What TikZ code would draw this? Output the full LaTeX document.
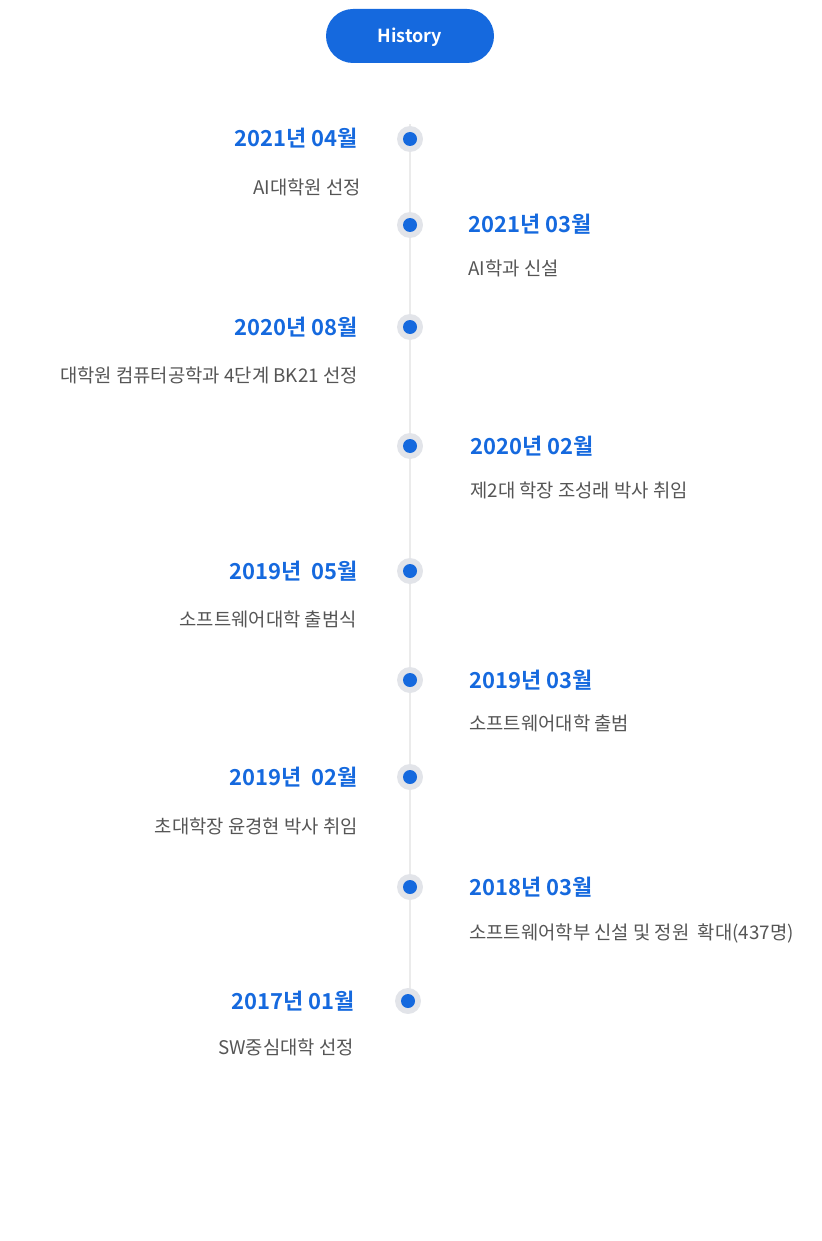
\documentclass[tikz,border=0pt]{standalone}
\usepackage{fontspec}
\setmainfont{Noto Sans CJK KR}[BoldFont={Noto Sans CJK KR Bold}]
\definecolor{hblue}{HTML}{1569DE}
\definecolor{dotgray}{HTML}{E2E4E9}
\definecolor{linegray}{HTML}{EBEBEB}
\definecolor{descgray}{HTML}{555555}
\tikzset{
  yearL/.style={anchor=base east, inner sep=0pt, text=hblue, font=\bfseries\fontsize{16.5}{18}\selectfont},
  yearR/.style={anchor=base west, inner sep=0pt, text=hblue, font=\bfseries\fontsize{16.5}{18}\selectfont},
  descL/.style={anchor=base east, inner sep=0pt, text=descgray, font=\fontsize{14.1}{16}\selectfont},
  descR/.style={anchor=base west, inner sep=0pt, text=descgray, font=\fontsize{14.1}{16}\selectfont},
  dotnode/.style={circle, fill=dotgray, minimum size=19.5pt, inner sep=0pt,
    path picture={\fill[hblue] (path picture bounding box.center) circle (5.25pt);}},
}
\begin{document}
\begin{tikzpicture}[x=0.75pt,y=-0.75pt]
\useasboundingbox (0,0) rectangle (821,1241);
% header
\node[fill=hblue, rounded corners=20.25pt, minimum width=126pt, minimum height=40.5pt, inner sep=0pt] (hdr) at (410,36) {};
\node[anchor=base, inner sep=0pt, text=white, font=\bfseries\fontsize{13.5}{15}\selectfont] (hdrtext) at (410,42.5) {History};
% timeline line
\coordinate (ltop) at (410,124);
\coordinate (lbot) at (410,1001);
\draw[linegray, line width=1.5pt] (ltop) -- (lbot);
% dots
\node[dotnode] (d1) at (410,139) {};
\node[dotnode] (d2) at (410,225) {};
\node[dotnode] (d3) at (410,327) {};
\node[dotnode] (d4) at (410,446) {};
\node[dotnode] (d5) at (410,571) {};
\node[dotnode] (d6) at (410,680) {};
\node[dotnode] (d7) at (410,777) {};
\node[dotnode] (d8) at (410,887) {};
\node[dotnode] (d9) at (408,1001) {};
% entries
\node[yearL] (y1) at (358,147) {2021년 04월};
\node[descL] (t1) at (361,195) {AI대학원 선정};
\node[yearR] (y2) at (468,233) {2021년 03월};
\node[descR] (t2) at (468,275) {AI학과 신설};
\node[yearL] (y3) at (358,335) {2020년 08월};
\node[descL] (t3) at (358,382) {대학원 컴퓨터공학과 4단계 BK21 선정};
\node[yearR] (y4) at (470,454) {2020년 02월};
\node[descR] (t4) at (470,497) {제2대 학장 조성래 박사 취임};
\node[yearL] (y5) at (358,579) {2019년~~05월};
\node[descL] (t5) at (357,626) {소프트웨어대학 출범식};
\node[yearR] (y6) at (469,688) {2019년 03월};
\node[descR] (t6) at (469,730) {소프트웨어대학 출범};
\node[yearL] (y7) at (358,785) {2019년~~02월};
\node[descL] (t7) at (358,833) {초대학장 윤경현 박사 취임};
\node[yearR] (y8) at (469,895) {2018년 03월};
\node[descR] (t8) at (469,939) {소프트웨어학부 신설 및 정원~~확대(437명)};
\node[yearL] (y9) at (355,1009) {2017년 01월};
\node[descL] (t9) at (354,1054) {SW중심대학 선정};
\end{tikzpicture}
\end{document}
